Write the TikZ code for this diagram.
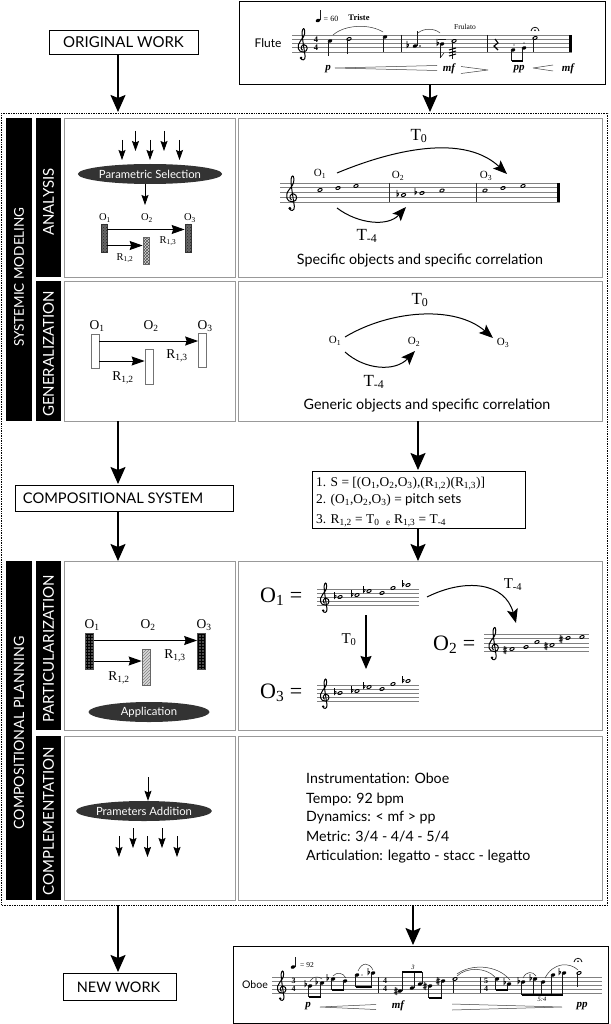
\documentclass[tikz,border=0pt]{standalone}
\usepackage{fontspec}
\setmainfont{Liberation Serif}
\newfontfamily\gs{Lato}
\usetikzlibrary{arrows.meta,patterns,shapes.geometric,calc}
\newcommand{\fs}[1]{\fontsize{#1}{#1}\selectfont}
\newcommand{\sbx}[1]{\textsubscript{#1}}
\tikzset{
  bigarrow/.style={line width=1.7pt,-{Stealth[length=17pt,width=15pt,inset=3pt]}},
  midarrow/.style={line width=1pt,-{Stealth[length=13pt,width=9pt,inset=1.5pt]}},
  smallarrow/.style={line width=.8pt,-{Stealth[length=10pt,width=7pt,inset=1.5pt]}},
  curvearrow/.style={line width=1pt,-{Stealth[length=14pt,width=11pt,inset=3pt]}},
  blackbox/.style={draw=black,line width=.9pt,fill=white,inner sep=0pt},
  cellbox/.style={draw=black!40,line width=.9pt,fill=white,inner sep=0pt},
  barbox/.style={fill=black,inner sep=0pt},
  bartext/.style={text=white,rotate=90,inner sep=0pt,font=\gs\fs{15}},
  capt/.style={inner sep=0pt,font=\gs\fs{14.3}},
  lab/.style={inner sep=0pt},
  ell/.style={ellipse,fill=black!80,text=white,inner sep=0pt,font=\gs\fs{11.3},minimum width=121,minimum height=20},
  staffl/.style={draw=black!50,line width=.55pt},
  mus/.style={line width=.55pt,black!90},
  hair/.style={line width=.5pt,black!75},
  dyn/.style={inner sep=0pt,font=\bfseries\itshape\fs{11}},
  objrect/.style={inner sep=0pt,draw=black!55,line width=.7pt,fill=white},
}
\newcommand{\staffm}[4]{\foreach \i in {0,...,4}{\pgfmathsetmacro{\yy}{#3+\i*#4}\draw[staffl] (#1,\yy)--(#2,\yy);}}
\newcommand{\clefm}[3]{\begin{scope}[shift={(#1,#2)},scale=#3]
 \draw[line width=1pt,black] (-.1,1.6) .. controls (-.8,1.2) and (-.3,.2) .. (.3,.3) .. controls (1.2,.4) and (1.3,1.9) .. (.1,2) .. controls (-1.2,2.1) and (-1.6,.6) .. (-.6,-.6) .. controls (-.1,-1.2) and (.5,-1.9) .. (.4,-2.9) .. controls (.35,-3.8) and (-.1,-3.6) .. (-.2,-2.8) .. controls (-.3,-1.8) and (.3,1.5) .. (.5,3) .. controls (.6,4) and (-.4,4.1) .. (-.5,3.4);
 \fill (-.45,3.4) circle (.33);
 \end{scope}}
\newcommand{\nh}[2]{\fill[black,rotate around={22:(#1,#2)}] (#1,#2) ellipse (2.4 and 1.7);}
\newcommand{\oh}[2]{\draw[line width=.9pt,black,rotate around={22:(#1,#2)}] (#1,#2) ellipse (2.3 and 1.4);}
\newcommand{\flatm}[2]{\draw[line width=.65pt,black,shift={(#1,#2)}] (0,-5)--(0,1.5) .. controls (2.6,-.5) and (2,-2.6) .. (0,-1);}
\newcommand{\sharpm}[2]{\draw[line width=.65pt,black,shift={(#1,#2)}] (-.8,-4)--(-.8,3.5) (.8,-3.5)--(.8,4) (-2,-.8)--(2,-1.8) (-2,1.8)--(2,.8);}
\newcommand{\stem}[3]{\draw[mus] (#1,#2)--(#1,#3);}
\newcommand{\beam}[4]{\draw[line width=1.5pt,black] (#1,#2)--(#3,#4);}
% slur: x1,y1,x2,y2,control height
\newcommand{\slur}[5]{\pgfmathsetmacro{\ca}{#1+(#3-#1)*.25}\pgfmathsetmacro{\cb}{#3-(#3-#1)*.25}\draw[line width=.5pt,black!80] (#1,#2) .. controls (\ca,#5) and (\cb,#5) .. (#3,#4);}
\newcommand{\hairpin}[4]{\draw[hair] (#1,#3)--(#2,#3-#4) (#1,#3)--(#2,#3+#4);}
\newcommand{\fermata}[2]{\draw[line width=.7pt,shift={(#1,#2)}] (-4,0) .. controls (-3.5,-5) and (3.5,-5) .. (4,0);\fill (#1,#2-.7) circle (.9);}
\begin{document}
\begin{tikzpicture}[x=1pt,y=-1pt]
\useasboundingbox (0,0) rectangle (610,1024);
\fill[white] (0,0) rectangle (610,1024);

% outer dotted frame
\node[draw=black,densely dotted,line width=.7pt,inner sep=0pt,minimum width=606,minimum height=792] (outer) at (304.8,509) {};

% top
\node[blackbox,minimum width=149,minimum height=24] (orig) at (123.5,42) {};
\node[lab,font=\gs\fs{15}] (origt) at (123.5,42) {ORIGINAL WORK};
\node[blackbox,minimum width=366,minimum height=83] (topscore) at (422,42.5) {};
\node[blackbox,minimum width=218,minimum height=26] (compsys) at (124,498) {};
\node[lab,font=\gs\fs{14.7}] (compt) at (113,498) {COMPOSITIONAL SYSTEM};
\node[blackbox,minimum width=113,minimum height=27] (newwork) at (120,986.5) {};
\node[lab,font=\gs\fs{14.5}] (newt) at (118.5,987) {NEW WORK};
\node[blackbox,minimum width=375,minimum height=77] (botscore) at (420.5,984.5) {};

% bars
\node[barbox,minimum width=26,minimum height=303] (barA) at (19,269.5) {};
\node[barbox,minimum width=25,minimum height=159] (barB) at (48.5,197.5) {};
\node[barbox,minimum width=25,minimum height=140] (barC) at (48.5,351) {};
\node[barbox,minimum width=26,minimum height=339] (barD) at (19,730.5) {};
\node[barbox,minimum width=25,minimum height=169] (barE) at (48.5,645.5) {};
\node[barbox,minimum width=25,minimum height=164] (barF) at (48.5,818) {};
\node[bartext,font=\gs\fs{13.5}] (tA) at (19,277) {SYSTEMIC MODELING};
\node[bartext] (tB) at (48.5,202) {ANALYSIS};
\node[bartext] (tC) at (48.5,354) {GENERALIZATION};
\node[bartext,font=\gs\fs{14.2}] (tD) at (19,733) {COMPOSITIONAL PLANNING};
\node[bartext] (tE) at (48.5,649) {PARTICULARIZATION};
\node[bartext] (tF) at (48.5,821) {COMPLEMENTATION};

% cells
\node[cellbox,minimum width=171,minimum height=159] (c1) at (149.5,197.5) {};
\node[cellbox,minimum width=364,minimum height=159] (d1) at (420,197.5) {};
\node[cellbox,minimum width=171,minimum height=140] (c2) at (149.5,351) {};
\node[cellbox,minimum width=364,minimum height=140] (d2) at (420,351) {};
\node[cellbox,minimum width=171,minimum height=169] (c3) at (149.5,645.5) {};
\node[cellbox,minimum width=364,minimum height=169] (d3) at (420,645.5) {};
\node[cellbox,minimum width=171,minimum height=164] (c4) at (149.5,818) {};
\node[cellbox,minimum width=364,minimum height=164] (d4) at (420,818) {};

% system box
\node[blackbox,minimum width=213,minimum height=57] (sysbox) at (418.5,499.5) {};
\node[lab,anchor=base west,font=\fs{13.4}] (s1) at (316,486) {1. S = [(O\sbx{1},O\sbx{2},O\sbx{3}),(R\sbx{1,2})(R\sbx{1,3})]};
\node[lab,anchor=base west,font=\fs{13.4}] (s2) at (316,503) {2. (O\sbx{1},O\sbx{2},O\sbx{3}) = {\gs pitch sets}};
\node[lab,anchor=base west,font=\fs{13.4}] (s3) at (316,523) {3. R\sbx{1,2} = T\sbx{0}\ \ \sbx{e}\ R\sbx{1,3} = T\sbx{-4}};

% main arrows
\coordinate (m1) at (118,112);
\coordinate (m2) at (430,112);
\coordinate (m3) at (118,484);
\coordinate (m4) at (418,470);
\coordinate (m5) at (118,561);
\coordinate (m6) at (418,561);
\coordinate (m7) at (118,972);
\coordinate (m8) at (413,945);
\coordinate (n1) at (118,421);
\coordinate (n2) at (418,421);
\coordinate (n3) at (118,905);
\coordinate (n4) at (413,905);
\draw[bigarrow] (orig.south -| m1) -- (m1);
\draw[bigarrow] (topscore.south -| m2) -- (m2);
\draw[bigarrow] (n1) -- (m3);
\draw[bigarrow] (n2) -- (m4);
\draw[bigarrow] (compsys.south -| m5) -- (m5);
\draw[bigarrow] (sysbox.south -| m6) -- (m6);
\draw[bigarrow] (n3) -- (m7);
\draw[bigarrow] (n4) -- (m8);

% ---- analysis cell
\node[ell] (e1) at (150,174) {Parametric Selection};
\foreach \nm/\xx/\ya/\yb in {p1/122/140/160,p2/135.5/131/151,p3/150/140/160,p4/164/131/151,p5/179.5/140/160}{
 \coordinate (\nm s) at (\xx,\ya); \coordinate (\nm e) at (\xx,\yb);
 \draw[smallarrow] (\nm s)--(\nm e);}
\coordinate (p6) at (145,205);
\draw[smallarrow] (e1.south -| p6) -- (p6);
\node[lab,font=\fs{10.5}] (ao1) at (105,218) {O\sbx{1}};
\node[lab,font=\fs{10.5}] (ao2) at (147,218) {O\sbx{2}};
\node[lab,font=\fs{10.5}] (ao3) at (190,218) {O\sbx{3}};
\node[objrect,draw=black!80,pattern=crosshatch dots,pattern color=black!85,preaction={fill=black!60},minimum width=6,minimum height=28] (ar1) at (104,238) {};
\node[objrect,draw=black!60,pattern=crosshatch,pattern color=black!70,preaction={fill=black!15},minimum width=6,minimum height=27] (ar2) at (146,250.5) {};
\node[objrect,draw=black!80,pattern=crosshatch dots,pattern color=black!85,preaction={fill=black!60},minimum width=6,minimum height=28] (ar3) at (188,238) {};
\coordinate (aa) at (0,229.5);
\coordinate (ab) at (0,245.5);
\draw[midarrow] (ar1.east |- aa) -- (ar3.west |- aa);
\draw[midarrow] (ar1.east |- ab) -- (ar2.west |- ab);
\node[lab,font=\fs{10.5}] (ar13) at (168,241) {R\sbx{1,3}};
\node[lab,font=\fs{10.5}] (ar12) at (125,258) {R\sbx{1,2}};

% ---- generalization cell
\node[lab,font=\fs{13.5}] (go1) at (97,326) {O\sbx{1}};
\node[lab,font=\fs{13.5}] (go2) at (151,326) {O\sbx{2}};
\node[lab,font=\fs{13.5}] (go3) at (205,326) {O\sbx{3}};
\node[objrect,minimum width=8,minimum height=34] (gr1) at (95,351) {};
\node[objrect,minimum width=8,minimum height=35] (gr2) at (149,366.5) {};
\node[objrect,minimum width=8,minimum height=34] (gr3) at (202.5,350) {};
\coordinate (ga) at (0,341);
\coordinate (gb) at (0,361);
\draw[midarrow] (gr1.east |- ga) -- (gr3.west |- ga);
\draw[midarrow] (gr1.east |- gb) -- (gr2.west |- gb);
\node[lab,font=\fs{13.5}] (gr13) at (177,356) {R\sbx{1,3}};
\node[lab,font=\fs{13.5}] (gr12) at (123,378) {R\sbx{1,2}};

% ---- particularization cell
\node[lab,font=\fs{13.5}] (po1) at (92,625) {O\sbx{1}};
\node[lab,font=\fs{13.5}] (po2) at (148,625) {O\sbx{2}};
\node[lab,font=\fs{13.5}] (po3) at (204,625) {O\sbx{3}};
\node[objrect,draw=black!70,pattern=grid,pattern color=black,preaction={fill=black!70},minimum width=8,minimum height=36] (pr1) at (89.5,651) {};
\node[objrect,draw=black!60,pattern=north east lines,pattern color=black!50,preaction={fill=black!15},minimum width=8,minimum height=36] (pr2) at (146,667) {};
\node[objrect,draw=black!70,pattern=grid,pattern color=black,preaction={fill=black!70},minimum width=8,minimum height=36] (pr3) at (201.5,651) {};
\coordinate (pa) at (0,640.5);
\coordinate (pb) at (0,661);
\draw[midarrow] (pr1.east |- pa) -- (pr3.west |- pa);
\draw[midarrow] (pr1.east |- pb) -- (pr2.west |- pb);
\node[lab,font=\fs{13.5}] (pr13) at (175,656) {R\sbx{1,3}};
\node[lab,font=\fs{13.5}] (pr12) at (119,678) {R\sbx{1,2}};
\node[ell] (e3) at (149,712) {Application};

% ---- complementation cell
\node[ell] (e4) at (144,811) {Prameters Addition};
\coordinate (q0) at (148,777);
\draw[smallarrow] (q0) -- (e4.north -| q0);
\foreach \nm/\xx/\ya/\yb in {q1/119/836/857,q2/133/828/848,q3/147.5/836/857,q4/162/828/848,q5/177/836/857}{
 \coordinate (\nm s) at (\xx,\ya); \coordinate (\nm e) at (\xx,\yb);
 \draw[smallarrow] (\nm s)--(\nm e);}

% ---- analysis right
\node[lab,font=\fs{17}] (at0) at (419,136) {T\sbx{0}};
\node[lab,font=\fs{17}] (at4) at (367,236) {T\sbx{-4}};
\node[lab,font=\fs{11}] (bo1) at (320,174) {O\sbx{1}};
\node[lab,font=\fs{11}] (bo2) at (398,176) {O\sbx{2}};
\node[lab,font=\fs{11}] (bo3) at (486,176) {O\sbx{3}};
\coordinate (b1) at (337,173);\coordinate (b2) at (507,174);
\coordinate (b3) at (337,208);\coordinate (b4) at (406,207);
\draw[curvearrow] (b1) .. controls (380,155) and (460,130) .. (b2);
\draw[curvearrow] (b3) .. controls (358,224) and (388,227) .. (b4);
\staffm{280}{560}{183}{4.7}
\clefm{292}{192.4}{4.7}
\draw[line width=.4pt,black!80] (389,183)--(389,201.8) (476,183)--(476,201.8);
\draw[line width=3pt,black] (558,183)--(558,201.8);
\foreach \xx/\yy in {320/190,338/188,356/186,403.5/195,422/193,442/190.5,485/190.5,503/188,523/186}{\oh{\xx}{\yy}}
\flatm{397}{195}\flatm{415}{193}
\node[capt] (cap1) at (420,261) {Specific objects and specific correlation};

% ---- generalization right
\node[lab,font=\fs{17}] (ct0) at (420,300) {T\sbx{0}};
\node[lab,font=\fs{17}] (ct4) at (374,382) {T\sbx{-4}};
\node[lab,font=\fs{11}] (co1) at (335,341) {O\sbx{1}};
\node[lab,font=\fs{11}] (co2) at (414,342) {O\sbx{2}};
\node[lab,font=\fs{11}] (co3) at (503,343) {O\sbx{3}};
\coordinate (cs1) at (345,337);\coordinate (ce1) at (493,338);
\coordinate (cs2) at (345,352);\coordinate (ce2) at (415,351);
\draw[curvearrow] (cs1) .. controls (390,310) and (455,305) .. (ce1);
\draw[curvearrow] (cs2) .. controls (365,370) and (395,372) .. (ce2);
\node[capt] (cap2) at (427,406) {Generic objects and specific correlation};

% ---- particularization right
\node[lab,anchor=west,font=\fs{22}] (eq1) at (260,597) {O\sbx{1} =};
\node[lab,anchor=west,font=\fs{22}] (eq3) at (260,693) {O\sbx{3} =};
\node[lab,anchor=west,font=\fs{22}] (eq2) at (433,645) {O\sbx{2} =};
\foreach \dy in {0,96}{
 \pgfmathsetmacro{\ytop}{589+\dy}
 \staffm{317}{419}{\ytop}{4}
 \pgfmathsetmacro{\yc}{597+\dy}
 \clefm{325}{\yc}{4}
 \foreach \xx/\yy/\fl in {340/597/1,357/595/1,369/591/1,382/593/0,393/588/0,408/585/1}{
  \pgfmathsetmacro{\yn}{\yy+\dy}
  \oh{\xx}{\yn}
  \ifnum\fl=1 \pgfmathsetmacro{\xf}{\xx-5.5}\flatm{\xf}{\yn}\fi
 }
}
\staffm{484}{589}{634}{4.4}
\clefm{494}{642.8}{4.4}
\foreach \xx/\yy in {512/649,526/647,537/642,552/645,568/638,582/637}{\oh{\xx}{\yy}}
\sharpm{505}{650}\sharpm{546}{646}\sharpm{561}{639}
\coordinate (r1) at (366,615);\coordinate (r2) at (366,669);
\draw[line width=1.2pt,-{Stealth[length=13pt,width=11pt,inset=1.5pt]}] (r1) -- (r2);
\node[lab,font=\fs{15}] (rt0) at (349,640) {T\sbx{0}};
\coordinate (r3) at (427,597);\coordinate (r4) at (516,623);
\draw[curvearrow] (r3) .. controls (465,578) and (505,582) .. (r4);
\node[lab,font=\fs{15}] (rt4) at (513,585) {T\sbx{-4}};

% ---- complementation right
\foreach \nm/\yy/\tx in {k1/783/{Instrumentation: Oboe},k2/803/{Tempo: 92 bpm},k3/821/{Dynamics: < mf > pp},k4/841/{Metric: 3/4 - 4/4 - 5/4},k5/860/{Articulation: legatto - stacc - legatto}}{
 \node[lab,anchor=base west,font=\gs\fs{14.2}] (\nm) at (306,\yy) {\tx};}

% ---- top score
\node[lab,font=\gs\fs{12}] (flute) at (268,43) {Flute};
\staffm{292}{572}{35}{4.25}
\clefm{303}{43.5}{4.25}
\node[lab,font=\bfseries\fs{8.5}] (ts1) at (316,39.5) {4};
\node[lab,font=\bfseries\fs{8.5}] (ts2) at (316,48) {4};
\draw[mus] (401,35)--(401,52) (487,35)--(487,52);
\draw[line width=3pt,black] (570.5,35)--(570.5,52);
\nh{330}{41}\stem{328}{41}{56}
\oh{349}{39}\stem{347}{39}{54}
\nh{385}{37}\stem{383}{37}{52}
\slur{333}{35}{383}{32}{24}
\flatm{407}{46}\nh{415}{46}\stem{417}{46}{31}\fill (420,46) circle (.8);
\slur{418}{33}{440}{33}{28}
\flatm{437}{44}\nh{442}{44}\stem{440}{44}{58}
\draw[mus] (440,58)--(444,53);
\draw[mus] (438,39)--(446,39);
\oh{454}{41}\stem{452}{41}{59}
\draw[line width=1pt] (449,50)--(456,48) (449,53)--(456,51) (449,56)--(456,54);
\node[lab,font=\fs{7.5}] (frul) at (465,27) {Frulato};
\draw[line width=1.1pt] (495,39) -- (498,43) -- (494,46) -- (498,50);
\nh{513}{50}\stem{511.5}{50}{61}
\nh{524}{48}\stem{522.5}{48}{61}
\beam{511.5}{61}{522.5}{61}
\fill (514,45) circle (.7);\fill (524,43) circle (.7);
\oh{535}{38}\stem{533}{38}{52}
\fermata{535}{31}
\nh{318}{20.5}\stem{320}{20.5}{10}
\node[lab,font=\fs{8}] (tm) at (331,19) {= 60};
\node[lab,font=\bfseries\fs{8.5}] (tr) at (359,18) {Triste};
\node[dyn] (d1) at (328,69) {p};
\hairpin{335}{437}{68}{2.5}
\node[dyn] (d2) at (449,69) {mf};
\hairpin{488}{461}{70}{3.5}
\node[dyn] (d3) at (519,69) {pp};
\hairpin{533}{553}{68}{3}
\node[dyn] (d4) at (568,69) {mf};

% ---- bottom score
\node[lab,font=\gs\fs{10.5}] (oboe) at (255,985) {Oboe};
\staffm{272}{602}{977}{4}
\clefm{282}{985}{4}
\node[lab,font=\bfseries\fs{8}] (bs1) at (293.5,981) {3};
\node[lab,font=\bfseries\fs{8}] (bs2) at (293.5,989) {4};
\node[lab,font=\bfseries\fs{8}] (bs3) at (385,981) {4};
\node[lab,font=\bfseries\fs{8}] (bs4) at (385,989) {4};
\node[lab,font=\bfseries\fs{8}] (bs5) at (486,981) {5};
\node[lab,font=\bfseries\fs{8}] (bs6) at (486,989) {4};
\draw[mus] (378,977)--(378,993) (480,977)--(480,993);
% m1
\nh{310}{986}\stem{308.5}{986}{997}\nh{322}{983}\stem{320.5}{983}{997}\beam{308.5}{997}{320.5}{997}
\flatm{305}{985}\flatm{316}{983}
\slur{310}{981}{322}{979}{976}
\nh{333}{979}\stem{331.5}{979}{990}\nh{345}{981}\stem{343.5}{981}{990}\beam{331.5}{990}{343.5}{990}
\flatm{327}{979}
\slur{333}{976}{346}{978}{972}
\nh{357}{975}\stem{355.5}{975}{987}\nh{373}{973}\stem{371.5}{973}{987}\beam{355.5}{987}{371.5}{987}
\fill (362,975) circle (.7);\flatm{368}{973}
\slur{358}{971}{373}{970}{962}
% m2
\nh{400}{991}\stem{402}{991}{972}\nh{412}{988}\stem{414}{988}{972}\nh{420}{984}\stem{422}{984}{972}\beam{402}{972}{422}{972}
\sharpm{396}{991}
\node[lab,font=\itshape\fs{6.5}] (trip) at (413,967) {3};
\nh{430}{986}\stem{428.5}{986}{998}\nh{443}{981}\stem{441.5}{981}{998}\beam{428.5}{998}{441.5}{998}
\sharpm{425}{986}\sharpm{438}{981}
\oh{455}{979}\stem{453.5}{979}{993}
\slur{457}{976}{495}{977}{967}
\slur{457}{974}{510}{980}{964}
% m3
\nh{497}{979}\stem{495.5}{979}{990}\nh{509}{984}\stem{507.5}{984}{990}\beam{495.5}{990}{507.5}{990}
\flatm{504}{983}
\foreach \xx/\yy in {523/982,535/979,543/982,553/975,564/973}{\nh{\xx}{\yy}\pgfmathsetmacro{\xs}{\xx-1.5}\stem{\xs}{\yy}{995}}
\beam{521.5}{995}{562.5}{995}
\flatm{518}{982}\flatm{530}{979}\flatm{559}{973}
\slur{523}{978}{536}{976}{971}
\slur{545}{978}{578}{970}{962}
\node[lab,font=\itshape\fs{6.5}] (quin) at (542,999) {5:4};
\oh{579}{973}\stem{577.5}{973}{987}
\fermata{578}{962}
\nh{293}{967}\stem{295}{967}{957}
\node[lab,font=\fs{7.5}] (tm2) at (307,965) {= 92};
\node[dyn] (e1d) at (308,1006) {p};
\hairpin{320}{376}{1007}{2.5}
\node[dyn] (e2d) at (398,1006) {mf};
\hairpin{562}{452}{1007}{3}
\node[dyn] (e3d) at (582,1006) {pp};
\end{tikzpicture}
\end{document}
